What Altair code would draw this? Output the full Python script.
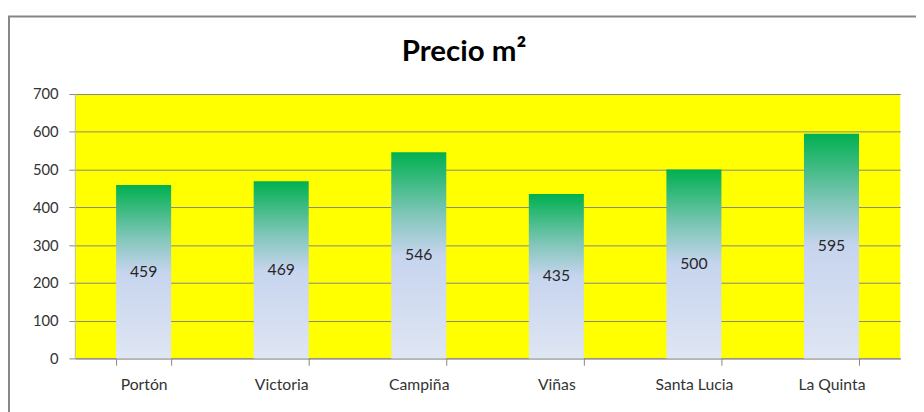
import altair as alt
import pandas as pd

categories = ["Portón", "Victoria", "Campiña", "Viñas", "Santa Lucia", "La Quinta"]
values = [459, 469, 546, 435, 500, 595]
y_ticks = [0, 100, 200, 300, 400, 500, 600, 700]
title_text = ["Precio m²"]

df = pd.DataFrame({"zona": categories, "precio": values})

FONT = "Lato"
GRID = "#868686"

gradient = alt.Gradient(
    gradient="linear",
    x1=0, y1=0, x2=0, y2=1,
    stops=[
        alt.GradientStop(color="#00B050", offset=0),
        alt.GradientStop(color="#7FC6B8", offset=0.3),
        alt.GradientStop(color="#C6D4EE", offset=0.5),
        alt.GradientStop(color="#DFE6F3", offset=1),
    ],
)

x_axis = alt.Axis(
    labelAngle=0,
    labelFont=FONT,
    labelFontSize=16,
    labelColor="#333333",
    labelPadding=12,
    tickBand="extent",
    tickSize=7,
    tickColor=GRID,
    domainColor=GRID,
    grid=False,
)
y_axis = alt.Axis(
    values=y_ticks,
    labelFont=FONT,
    labelFontSize=15,
    labelColor="#333333",
    labelPadding=11,
    tickSize=6,
    tickColor=GRID,
    domainColor="#BFBFBF",
    gridColor=GRID,
    gridWidth=1,
)
x_scale = alt.Scale(paddingInner=0.6, paddingOuter=0.3)
y_scale = alt.Scale(domain=[0, 700], nice=False)

bars = alt.Chart(df).mark_bar(color=gradient).encode(
    x=alt.X("zona:N", sort=categories, title=None, scale=x_scale, axis=x_axis),
    y=alt.Y("precio:Q", title=None, scale=y_scale, axis=y_axis),
)

labels = alt.Chart(df).transform_calculate(
    mitad="datum.precio / 2"
).mark_text(font=FONT, fontSize=16, color="#262626", baseline="middle").encode(
    x=alt.X("zona:N", sort=categories, title=None, scale=x_scale, axis=x_axis),
    y=alt.Y("mitad:Q", title=None, scale=y_scale, axis=y_axis),
    text=alt.Text("precio:Q"),
)

title_df = pd.DataFrame({"t": title_text})
title = alt.Chart(title_df).mark_text(
    font=FONT, fontSize=30, fontWeight="bold", color="#000000",
    align="center", baseline="alphabetic",
).encode(x=alt.value(396), y=alt.value(-34), text="t:N")

frame_df = pd.DataFrame({"k": [0]})
left_border = alt.Chart(frame_df).mark_rule(color=GRID, strokeWidth=2).encode(
    x=alt.value(-67), y=alt.value(-79), y2=alt.value(340)
)
top_border = alt.Chart(frame_df).mark_rule(color=GRID, strokeWidth=2).encode(
    y=alt.value(-79), x=alt.value(-68), x2=alt.value(860)
)

chart = (
    alt.layer(bars, labels, title, left_border, top_border)
    .properties(
        width=840,
        height=269,
        autosize=alt.AutoSizeParams(type="none"),
        padding={"left": 68, "top": 84, "right": 16, "bottom": 51},
        background="white",
    )
    .configure_view(fill="#FFFF00", stroke=None)
)

chart.save("out.html", embed_options={"renderer": "svg", "actions": False})
